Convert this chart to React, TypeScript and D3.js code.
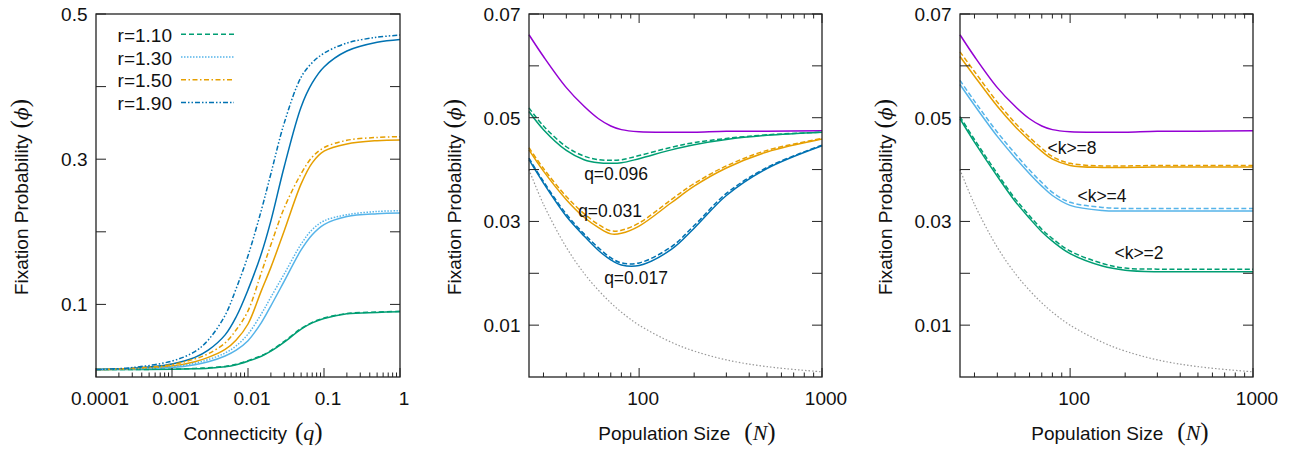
import * as d3 from "d3";

// ---- panel 1: fixation probability vs connectivity q ----
const qValues = [0.0001, 0.0003, 0.001, 0.002, 0.003, 0.005, 0.007, 0.01, 0.015, 0.02, 0.03, 0.05, 0.07, 0.1, 0.2, 0.5, 1];
const rLabels = ["r=1.10", "r=1.30", "r=1.50", "r=1.90"];
const r110Solid = [0.0102, 0.0103, 0.0106, 0.0114, 0.0122, 0.014, 0.0168, 0.0218, 0.0285, 0.0355, 0.048, 0.066, 0.0745, 0.0805, 0.087, 0.089, 0.09];
const r110Dashed = [0.0102, 0.0104, 0.0108, 0.0118, 0.0127, 0.0146, 0.0175, 0.0226, 0.0294, 0.0364, 0.049, 0.0668, 0.0752, 0.0812, 0.0875, 0.0895, 0.0905];
const r130Solid = [0.0102, 0.011, 0.013, 0.017, 0.021, 0.029, 0.037, 0.05, 0.075, 0.098, 0.132, 0.175, 0.196, 0.21, 0.221, 0.225, 0.226];
const r130Dashed = [0.0102, 0.0115, 0.014, 0.019, 0.024, 0.033, 0.043, 0.059, 0.087, 0.11, 0.142, 0.183, 0.203, 0.215, 0.2235, 0.228, 0.229];
const r150Solid = [0.0102, 0.0115, 0.015, 0.021, 0.027, 0.038, 0.051, 0.073, 0.119, 0.151, 0.2015, 0.266, 0.295, 0.311, 0.321, 0.3255, 0.3265];
const r150Dashed = [0.0102, 0.012, 0.017, 0.025, 0.032, 0.047, 0.065, 0.091, 0.144, 0.182, 0.233, 0.28, 0.303, 0.316, 0.326, 0.33, 0.331];
const r190Solid = [0.0102, 0.012, 0.018, 0.027, 0.037, 0.058, 0.083, 0.12, 0.17, 0.215, 0.29, 0.372, 0.405, 0.427, 0.449, 0.461, 0.465];
const r190Dashed = [0.0102, 0.013, 0.022, 0.035, 0.051, 0.085, 0.122, 0.167, 0.23, 0.28, 0.35, 0.413, 0.433, 0.446, 0.46, 0.468, 0.471];
const qTicks = [0.0001, 0.001, 0.01, 0.1, 1];
const qTickLabels = ["0.0001", "0.001", "0.01", "0.1", "1"];
const phiTicks1 = [0.1, 0.2, 0.3, 0.4, 0.5];
const phiLabels1 = ["0.1", "", "0.3", "", "0.5"];

// ---- panels 2 and 3: fixation probability vs population size N ----
const nValues = [25, 30, 40, 50, 60, 70, 80, 100, 150, 200, 300, 500, 1000];
const completeGraph = [0.066, 0.0618, 0.0558, 0.0522, 0.0498, 0.0484, 0.0477, 0.0473, 0.0472, 0.0472, 0.0474, 0.0474, 0.0475];
const neutral = [0.04, 0.0333, 0.025, 0.02, 0.0167, 0.0143, 0.0125, 0.01, 0.0067, 0.005, 0.0033, 0.002, 0.001];
const q096Solid = [0.0512, 0.0477, 0.0437, 0.0419, 0.0413, 0.0412, 0.0413, 0.0421, 0.0438, 0.0448, 0.0458, 0.0466, 0.0472];
const q096Dashed = [0.0519, 0.0484, 0.0444, 0.0426, 0.0419, 0.0418, 0.0419, 0.0427, 0.0443, 0.0452, 0.046, 0.0467, 0.0472];
const q031Solid = [0.0438, 0.0397, 0.0342, 0.0308, 0.0288, 0.0276, 0.0277, 0.0291, 0.0336, 0.0368, 0.0403, 0.0434, 0.0459];
const q031Dashed = [0.0442, 0.0402, 0.0348, 0.0315, 0.0294, 0.0282, 0.0283, 0.0297, 0.0342, 0.0373, 0.0407, 0.0437, 0.046];
const q017Solid = [0.0419, 0.0374, 0.031, 0.0272, 0.0244, 0.0226, 0.0216, 0.0215, 0.0246, 0.0287, 0.035, 0.0402, 0.0446];
const q017Dashed = [0.0422, 0.0377, 0.0314, 0.0276, 0.0249, 0.023, 0.022, 0.022, 0.0251, 0.0292, 0.0354, 0.0404, 0.0447];
const k8Solid = [0.0618, 0.058, 0.0522, 0.0483, 0.0456, 0.0435, 0.042, 0.0408, 0.0404, 0.0404, 0.0405, 0.0405, 0.0405];
const k8Dashed = [0.0627, 0.0589, 0.053, 0.049, 0.0462, 0.0441, 0.0425, 0.0412, 0.0407, 0.0407, 0.0408, 0.0408, 0.0408];
const k4Solid = [0.0564, 0.0524, 0.0464, 0.0423, 0.0392, 0.0368, 0.035, 0.0331, 0.0321, 0.032, 0.032, 0.032, 0.032];
const k4Dashed = [0.0572, 0.0532, 0.0472, 0.0431, 0.0399, 0.0375, 0.0356, 0.0337, 0.0327, 0.0325, 0.0325, 0.0325, 0.0325];
const k2Solid = [0.0498, 0.0453, 0.0387, 0.0339, 0.0306, 0.028, 0.0262, 0.0238, 0.0214, 0.0206, 0.0203, 0.0203, 0.0203];
const k2Dashed = [0.0502, 0.0458, 0.0392, 0.0344, 0.0311, 0.0285, 0.0267, 0.0243, 0.0219, 0.021, 0.0208, 0.0208, 0.0208];
const nTicks = [100, 1000];
const nTickLabels = ["100", "1000"];
const phiTicks2 = [0.01, 0.02, 0.03, 0.04, 0.05, 0.06, 0.07];
const phiLabels2 = ["0.01", "", "0.03", "", "0.05", "", "0.07"];
const qAnnotations = ["q=0.096", "q=0.031", "q=0.017"];
const kAnnotations = ["<k>=8", "<k>=4", "<k>=2"];

const GREEN = "#009e73";
const SKY = "#56b4e9";
const ORANGE = "#e69f00";
const BLUE = "#0072b2";
const PURPLE = "#9400d3";
const GRAY = "#999999";
const INK = "#111";
const SANS = "'Liberation Sans', Arial, sans-serif";
const SERIF = "'Liberation Serif', 'Times New Roman', serif";

const TOP = 14;
const BOTTOM = 377;

const minorLog = (lo: number, hi: number) => {
  const out: number[] = [];
  for (let d = lo; d < hi; d *= 10) {
    for (let m = 1; m < 10; m++) {
      const v = d * m;
      if (v >= lo && v <= hi) out.push(v);
    }
  }
  return out;
};

type Series = { xs: number[]; ys: number[]; color: string; dash?: string; width?: number };

const Panel = ({ left, right, x, y, series, xTicks, xLabels, xMinor, yTicks, yLabels, topTicks, xTitle, titleCx, sym }: any) => {
  // smooth curve through the read-off points
  const line = d3.line<[number, number]>()
    .x(d => x(d[0]))
    .y(d => y(d[1]))
    .curve(d3.curveCatmullRom.alpha(0.5));
  const minor = xMinor.filter((v: number) => !xTicks.some((t: number) => Math.abs(t - v) / t < 1e-9));
  return (
    <g>
      {series.map((s: Series, i: number) => (
        <path key={i} d={line(s.xs.map((v, j) => [v, s.ys[j]]) as [number, number][]) || ""}
          fill="none" stroke={s.color} strokeWidth={s.width ?? 1.5} strokeDasharray={s.dash} />
      ))}
      {/* frame */}
      <rect x={left} y={TOP} width={right - left} height={BOTTOM - TOP} fill="none" stroke="#222" strokeWidth={1.3} />
      {/* x ticks, drawn inward */}
      {xTicks.map((v: number) => (
        <g key={"xt" + v}>
          <line x1={x(v)} x2={x(v)} y1={BOTTOM} y2={BOTTOM - 9} stroke="#222" />
          {topTicks && <line x1={x(v)} x2={x(v)} y1={TOP} y2={TOP + 9} stroke="#222" />}
        </g>
      ))}
      {minor.map((v: number) => (
        <g key={"xm" + v}>
          <line x1={x(v)} x2={x(v)} y1={BOTTOM} y2={BOTTOM - 4.5} stroke="#222" />
          {topTicks && <line x1={x(v)} x2={x(v)} y1={TOP} y2={TOP + 4.5} stroke="#222" />}
        </g>
      ))}
      {xTicks.map((v: number, i: number) => (
        <text key={"xl" + v} x={x(v) + 4} y={405} textAnchor="middle" fontFamily={SANS} fontSize={19} fill={INK}>{xLabels[i]}</text>
      ))}
      {/* y ticks on both sides */}
      {yTicks.map((v: number, i: number) => (
        <g key={"yt" + v}>
          <line x1={left} x2={left + 10} y1={y(v)} y2={y(v)} stroke="#222" />
          <line x1={right} x2={right - 10} y1={y(v)} y2={y(v)} stroke="#222" />
          {yLabels[i] && (
            <text x={left - 8.5} y={y(v) + 7} textAnchor="end" fontFamily={SANS} fontSize={19} fill={INK}>{yLabels[i]}</text>
          )}
        </g>
      ))}
      {/* x title */}
      <text x={titleCx} y={440} textAnchor="middle" fontFamily={SANS} fontSize={19} fill={INK}>
        {xTitle}
        <tspan dx={sym === "N" ? 14 : 8} fontFamily={SERIF} fontSize={25}>(</tspan>
        <tspan fontFamily={SERIF} fontStyle="italic" fontSize={22}>{sym}</tspan>
        <tspan fontFamily={SERIF} fontSize={25}>)</tspan>
      </text>
      {/* y title */}
      <text transform={`translate(${left - 68},197) rotate(-90)`} textAnchor="middle" fontFamily={SANS} fontSize={19} fill={INK}>
        Fixation Probability
        <tspan dx={6} fontFamily={SERIF} fontSize={25}>(</tspan>
        <tspan fontFamily="'DejaVu Serif', serif" fontStyle="italic" fontSize={19}>ϕ</tspan>
        <tspan fontFamily={SERIF} fontSize={25}>)</tspan>
      </text>
    </g>
  );
};

export default function App() {
  // panel 1
  const x1 = d3.scaleLog().domain([0.0001, 1]).range([96, 400]);
  const y1 = d3.scaleLinear().domain([0, 0.5]).range([BOTTOM, TOP]);
  const solids1 = [r110Solid, r130Solid, r150Solid, r190Solid];
  const dashed1 = [r110Dashed, r130Dashed, r150Dashed, r190Dashed];
  const colors1 = [GREEN, SKY, ORANGE, BLUE];
  const dashes1 = ["5,3", "1.5,1.5", "5,2.5,1.5,2.5", "5,2,1.5,2,1.5,2"];
  const series1: Series[] = [];
  solids1.forEach((ys, i) => series1.push({ xs: qValues, ys, color: colors1[i] }));
  dashed1.forEach((ys, i) => series1.push({ xs: qValues, ys, color: colors1[i], dash: dashes1[i] }));

  // panels 2 and 3
  const x2 = d3.scaleLog().domain([25, 1000]).range([529, 822]);
  const y2 = d3.scaleLinear().domain([0, 0.07]).range([BOTTOM, TOP]);
  const x3 = d3.scaleLog().domain([25, 1000]).range([960, 1253]);
  const dash2 = "5,2.5";
  const series2: Series[] = [
    { xs: nValues, ys: neutral, color: GRAY, dash: "1.5,2", width: 1.2 },
    { xs: nValues, ys: completeGraph, color: PURPLE },
    { xs: nValues, ys: q096Solid, color: GREEN },
    { xs: nValues, ys: q096Dashed, color: GREEN, dash: dash2 },
    { xs: nValues, ys: q031Solid, color: ORANGE },
    { xs: nValues, ys: q031Dashed, color: ORANGE, dash: dash2 },
    { xs: nValues, ys: q017Solid, color: BLUE },
    { xs: nValues, ys: q017Dashed, color: BLUE, dash: dash2 },
  ];
  const series3: Series[] = [
    { xs: nValues, ys: neutral, color: GRAY, dash: "1.5,2", width: 1.2 },
    { xs: nValues, ys: completeGraph, color: PURPLE },
    { xs: nValues, ys: k8Solid, color: ORANGE },
    { xs: nValues, ys: k8Dashed, color: ORANGE, dash: dash2 },
    { xs: nValues, ys: k4Solid, color: SKY },
    { xs: nValues, ys: k4Dashed, color: SKY, dash: dash2 },
    { xs: nValues, ys: k2Solid, color: GREEN },
    { xs: nValues, ys: k2Dashed, color: GREEN, dash: dash2 },
  ];
  const nMinor = minorLog(10, 1000).filter(v => v > 25);

  const qAnnPos = [[616, 180], [610, 217], [636, 284]];
  const kAnnPos = [[1072, 154], [1102, 202], [1139, 259]];

  return (
    <svg width={1309} height={456} style={{ position: "absolute", left: 0, top: 0, background: "#fff" }}>
      <Panel left={96} right={400} x={x1} y={y1} series={series1}
        xTicks={qTicks} xLabels={qTickLabels} xMinor={minorLog(0.0001, 1)}
        yTicks={phiTicks1} yLabels={phiLabels1} topTicks={false}
        xTitle="Connecticity" titleCx={253} sym="q" />
      {/* legend */}
      {rLabels.map((lab, i) => {
        const by = 41.7 + i * 22.8;
        return (
          <g key={lab}>
            <text x={172} y={by} textAnchor="end" fontFamily={SANS} fontSize={19} fill={INK}>{lab}</text>
            <line x1={181} x2={234} y1={by - 7.5} y2={by - 7.5} stroke={colors1[i]} strokeWidth={1.5} strokeDasharray={dashes1[i]} />
          </g>
        );
      })}
      <Panel left={529} right={822} x={x2} y={y2} series={series2}
        xTicks={nTicks} xLabels={nTickLabels} xMinor={nMinor}
        yTicks={phiTicks2} yLabels={phiLabels2} topTicks={true}
        xTitle="Population Size" titleCx={687} sym="N" />
      {qAnnotations.map((t, i) => (
        <text key={t} x={qAnnPos[i][0]} y={qAnnPos[i][1]} textAnchor="middle" fontFamily={SANS} fontSize={17.5} fill={INK}>{t}</text>
      ))}
      <Panel left={960} right={1253} x={x3} y={y2} series={series3}
        xTicks={nTicks} xLabels={nTickLabels} xMinor={nMinor}
        yTicks={phiTicks2} yLabels={phiLabels2} topTicks={true}
        xTitle="Population Size" titleCx={1120} sym="N" />
      {kAnnotations.map((t, i) => (
        <text key={t} x={kAnnPos[i][0]} y={kAnnPos[i][1]} textAnchor="middle" fontFamily={SANS} fontSize={17.5} fill={INK}>{t}</text>
      ))}
    </svg>
  );
}
